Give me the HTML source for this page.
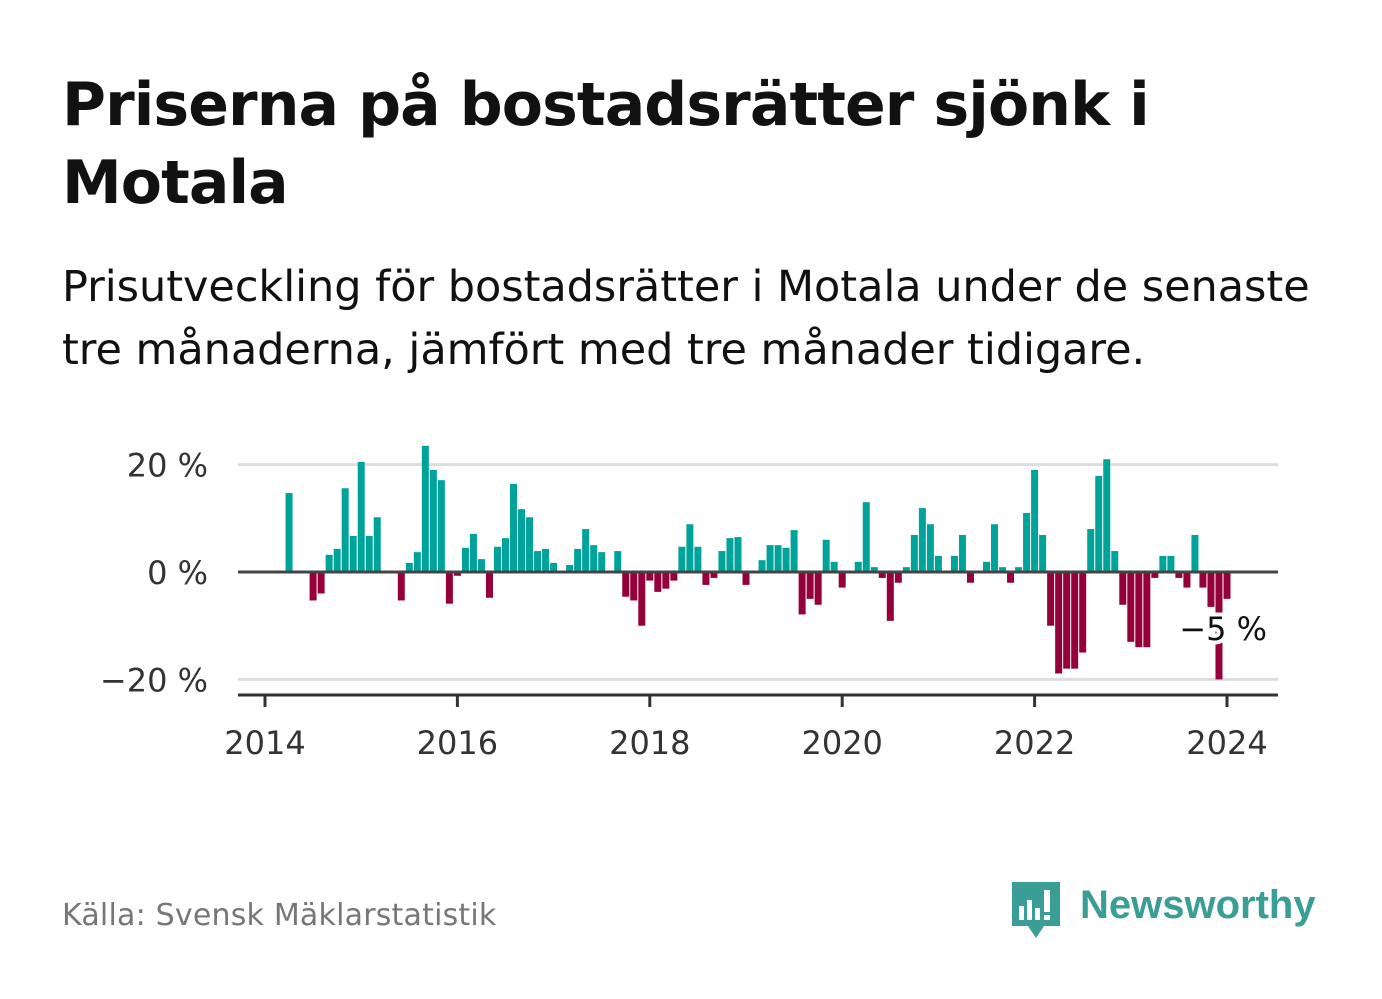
<!DOCTYPE html>
<html><head><meta charset="utf-8">
<style>
body{margin:0;background:#fff;width:1382px;height:999px;overflow:hidden;font-family:"Liberation Sans","DejaVu Sans",sans-serif;}
.t{position:absolute;left:62px;top:66px;font-size:60px;font-weight:bold;line-height:78px;color:#111;font-family:"DejaVu Sans","Liberation Sans",sans-serif;letter-spacing:-0.9px}
.s{position:absolute;left:62px;top:256px;font-size:43px;line-height:63px;color:#111;font-family:"DejaVu Sans","Liberation Sans",sans-serif;letter-spacing:-0.05px}
.src{position:absolute;left:62px;top:898px;font-size:30px;color:#777;font-family:"DejaVu Sans",sans-serif;letter-spacing:0.2px}
</style></head><body>
<div class="t">Priserna på bostadsrätter sjönk i<br>Motala</div>
<div class="s">Prisutveckling för bostadsrätter i Motala under de senaste<br>tre månaderna, jämfört med tre månader tidigare.</div>
<svg id="chart" width="1382" height="999" style="position:absolute;left:0;top:0" font-family="DejaVu Sans, Liberation Sans, sans-serif"></svg>
<div class="src">Källa: Svensk Mäklarstatistik</div>
<svg style="position:absolute;left:1010px;top:878px" width="320" height="64">
<path d="M2 4h48v44H34l-8 12-8-12H2z" fill="#3a9e96"/>
<rect x="9" y="28" width="5" height="14" fill="#fff"/><rect x="17" y="22" width="5" height="20" fill="#fff"/><rect x="25" y="30" width="5" height="12" fill="#fff"/><rect x="34" y="12" width="6" height="22" fill="#fff"/><rect x="34" y="37" width="6" height="5" fill="#fff"/>
<text x="70" y="40" font-size="40" font-weight="bold" fill="#3a9e96" font-family="Liberation Sans, sans-serif">Newsworthy</text>
</svg>
<script>
const startYear = 2014;
const values = [null,null,null,14.7,null,null,-5.3,-4,3.2,4.3,15.6,6.7,
20.5,6.7,10.2,null,null,-5.3,1.7,3.7,23.5,19,17.1,-5.9,
-0.7,4.5,7.1,2.4,-4.8,4.7,6.3,16.4,11.7,10.2,3.9,4.3,
1.7,null,1.3,4.3,8,5,3.7,null,3.9,-4.6,-5.3,-10,
-1.6,-3.7,-3.1,-1.6,4.7,8.9,4.7,-2.4,-1.1,3.9,6.3,6.5,
-2.4,null,2.2,5,5,4.5,7.8,-7.9,-5,-6.1,6,1.9,
-2.9,null,1.9,13,0.9,-1.1,-9.1,-2,0.9,6.9,11.9,8.9,
3,null,3,6.9,-2,null,1.9,8.9,0.9,-2,0.9,11,
19,6.9,-10,-18.9,-18,-18,-15,8,17.9,21,3.9,-6.1,
-13,-14,-14,-1.1,3,3,-1.1,-2.9,6.9,-2.9,-6.5,-20,
-5];
const yTicks = [20,0,-20];
const yTickLabels = ["20 %","0 %","\u221220 %"];
const xTicks = [2014,2016,2018,2020,2022,2024];
const lastLabel = "\u22125 %";
const NS="http://www.w3.org/2000/svg";
const svg=document.getElementById('chart');
const x0=265, pxPerMonth=96.2/12, x=m=>x0+m*pxPerMonth;
const y=v=>572-v*5.37;
function mk(t,a){const e=document.createElementNS(NS,t);for(const k in a)e.setAttribute(k,a[k]);svg.appendChild(e);return e;}
yTicks.forEach((v,i)=>{
  if(v!==0){const g=mk('line',{x1:238,x2:1278,y1:y(v),y2:y(v),stroke:'#ddd','stroke-width':3});
  
  }
  const t=mk('text',{x:208,y:y(v)+12,'text-anchor':'end','font-size':32,fill:'#333'});
  t.textContent=yTickLabels[i];
  
  
});
values.forEach((v,i)=>{
  if(v===null||v===0)return;
  const cx=x(i);
  const r=mk('rect',{x:cx-3.5,width:7,y:v>0?y(v):y(0),height:Math.abs(y(v)-y(0)),fill:v>0?'#00a39a':'#95003a'});
  
  
});
const z=mk('line',{x1:238,x2:1278,y1:y(0),y2:y(0),stroke:'#444','stroke-width':3});


const ax=mk('line',{x1:238,x2:1278,y1:695,y2:695,stroke:'#333','stroke-width':3});


xTicks.forEach(yr=>{
  const xx=x((yr-startYear)*12);
  const tk=mk('line',{x1:xx,x2:xx,y1:695,y2:707,stroke:'#333','stroke-width':3});
  
  
  const t=mk('text',{x:xx,y:754,'text-anchor':'middle','font-size':32,fill:'#333'});
  t.textContent=yr;
  
  
});
const li=values.length-1;
const lab=mk('text',{x:x(li)+40,y:y(values[li])+41,'text-anchor':'end','font-size':32,fill:'#111',stroke:'#fff','stroke-width':8,'paint-order':'stroke'});
lab.textContent=lastLabel;


</script>
</body></html>
